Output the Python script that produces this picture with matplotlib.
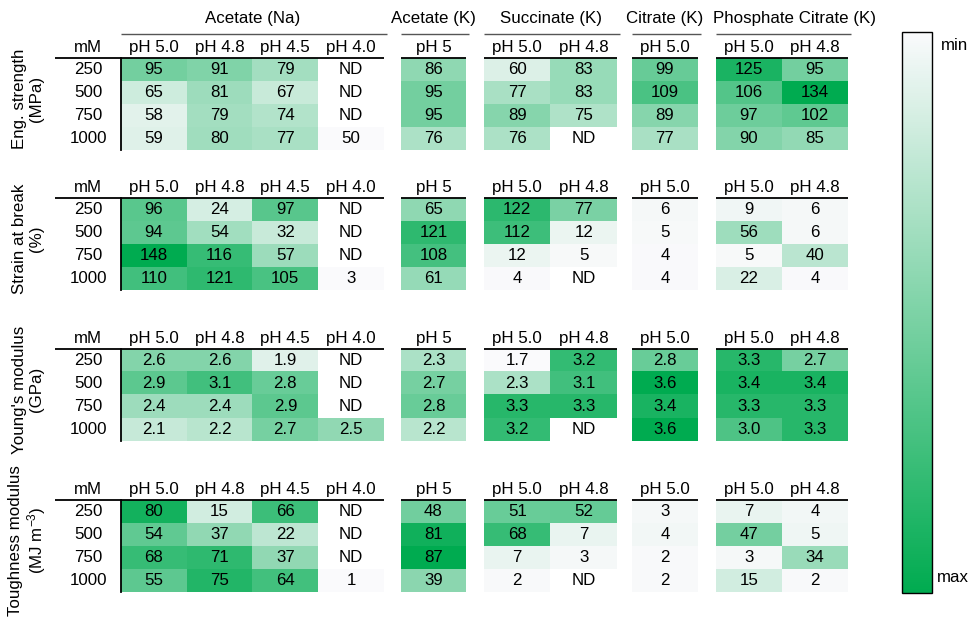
import numpy as np
import matplotlib
matplotlib.use("Agg")
import matplotlib.pyplot as plt
from matplotlib.colors import LinearSegmentedColormap, Normalize
from matplotlib.cm import ScalarMappable

plt.rcParams['font.family'] = ['Liberation Sans', 'DejaVu Sans']
plt.rcParams['mathtext.fontset'] = 'custom'
plt.rcParams['mathtext.rm'] = 'Liberation Sans'
plt.rcParams['mathtext.it'] = 'Liberation Sans:italic'

ND = np.nan

# ---- data ----
concentrations = ["250", "500", "750", "1000"]
groups = ["Acetate (Na)", "Acetate (K)", "Succinate (K)", "Citrate (K)",
          "Phosphate Citrate (K)"]
group_ph = [["pH 5.0", "pH 4.8", "pH 4.5", "pH 4.0"],
            ["pH 5"],
            ["pH 5.0", "pH 4.8"],
            ["pH 5.0"],
            ["pH 5.0", "pH 4.8"]]
metric_labels = ["Eng. strength\n(MPa)", "Strain at break\n(%)",
                 "Young's modulus\n(GPa)", "Toughness modulus\n(MJ m$^{-3}$)"]
metric_fmt = ["{:.0f}", "{:.0f}", "{:.1f}", "{:.0f}"]

# columns: Na 5.0/4.8/4.5/4.0 | K 5 | Succ 5.0/4.8 | Cit 5.0 | PC 5.0/4.8
strength = [[95, 91, 79, ND, 86, 60, 83, 99, 125, 95],
            [65, 81, 67, ND, 95, 77, 83, 109, 106, 134],
            [58, 79, 74, ND, 95, 89, 75, 89, 97, 102],
            [59, 80, 77, 50, 76, 76, ND, 77, 90, 85]]
strain = [[96, 24, 97, ND, 65, 122, 77, 6, 9, 6],
          [94, 54, 32, ND, 121, 112, 12, 5, 56, 6],
          [148, 116, 57, ND, 108, 12, 5, 4, 5, 40],
          [110, 121, 105, 3, 61, 4, ND, 4, 22, 4]]
youngs = [[2.6, 2.6, 1.9, ND, 2.3, 1.7, 3.2, 2.8, 3.3, 2.7],
          [2.9, 3.1, 2.8, ND, 2.7, 2.3, 3.1, 3.6, 3.4, 3.4],
          [2.4, 2.4, 2.9, ND, 2.8, 3.3, 3.3, 3.4, 3.3, 3.3],
          [2.1, 2.2, 2.7, 2.5, 2.2, 3.2, ND, 3.6, 3.0, 3.3]]
toughness = [[80, 15, 66, ND, 48, 51, 52, 3, 7, 4],
             [54, 37, 22, ND, 81, 68, 7, 4, 47, 5],
             [68, 71, 37, ND, 87, 7, 3, 2, 3, 34],
             [55, 75, 64, 1, 39, 2, ND, 2, 15, 2]]
metrics = [strength, strain, youngs, toughness]

# ---- layout (pixels) ----
W, H = 969, 624
group_x = [121, 401, 484, 632, 716]
group_w = [263, 65, 133, 66, 132]
panel_top = [58, 198, 349, 500]
cell_h = 92
FS = 12.2

cmap = LinearSegmentedColormap.from_list("wg", ["#fafafc", "#00ab50"])
cmap.set_bad("white")


def px_rect(x, y, w, h):
    return [x / W, 1 - (y + h) / H, w / W, h / H]


fig = plt.figure(figsize=(W / 100, H / 100), dpi=100)

for p, vals in enumerate(metrics):
    arr = np.array(vals, dtype=float)
    norm = Normalize(np.nanmin(arr), np.nanmax(arr))
    start = 0
    for g, phs in enumerate(group_ph):
        n = len(phs)
        sub = arr[:, start:start + n]
        start += n
        ax = fig.add_axes(px_rect(group_x[g], panel_top[p], group_w[g], cell_h))
        ax.imshow(sub, cmap=cmap, norm=norm, aspect='auto', interpolation='nearest')
        ax.set_xticks([])
        ax.set_yticks([])
        for s in ax.spines.values():
            s.set_visible(False)
        for r in range(sub.shape[0]):
            for c in range(n):
                v = sub[r, c]
                txt = "ND" if np.isnan(v) else metric_fmt[p].format(v)
                ax.text(c, r, txt, ha='center', va='center', fontsize=FS)
        for c, ph in enumerate(phs):
            ax.text(c, -0.95, ph, ha='center', va='center', fontsize=FS, clip_on=False)
        x0 = -0.5
        if g == 0:
            x0 = -1.5
            ax.spines['left'].set_visible(True)
            ax.spines['left'].set_linewidth(1.3)
            ax.text(-1.0, -0.95, "mM", ha='center', va='center', fontsize=FS, clip_on=False)
            for r, conc in enumerate(concentrations):
                ax.text(-1.0, r, conc, ha='center', va='center', fontsize=FS, clip_on=False)
        ax.plot([x0, n - 0.5], [-0.5, -0.5], color='black', lw=1.3,
                clip_on=False, solid_capstyle='butt')
        if p == 0:
            if g == len(groups) - 1:
                # long title: starts at the block's left edge
                ax.text(-0.55, -2.2, groups[g], ha='left', va='center',
                        fontsize=FS, clip_on=False)
            else:
                ax.text((n - 1) / 2, -2.2, groups[g], ha='center', va='center',
                        fontsize=FS, clip_on=False)
            ax.plot([-0.5, n - 0.45], [-1.55, -1.55], color='#555555', lw=1.0,
                    clip_on=False, solid_capstyle='butt')
        ax.set_xlim(-0.5, n - 0.5)
        ax.set_ylim(3.5, -0.5)

    # metric label
    yc = (panel_top[p] - 11 + panel_top[p] + cell_h) / 2
    fig.text(28 / W, 1 - yc / H, metric_labels[p], rotation=90, ha='center',
             va='center', fontsize=FS, linespacing=1.1, multialignment='center')

# colorbar
cax = fig.add_axes(px_rect(902, 32, 30, 561))
cb = fig.colorbar(ScalarMappable(norm=Normalize(0, 1), cmap=cmap), cax=cax)
cb.set_ticks([])
cax.invert_yaxis()
cb.outline.set_linewidth(1.0)
cb.outline.set_edgecolor('black')
fig.text(941 / W, 1 - 45 / H, "min", ha='left', va='center', fontsize=FS)
fig.text(937 / W, 1 - 578 / H, "max", ha='left', va='center', fontsize=FS)

fig.savefig("out.png", dpi=100, facecolor='white')
